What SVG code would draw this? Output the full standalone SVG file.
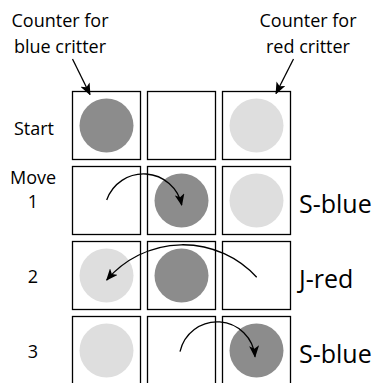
<svg xmlns="http://www.w3.org/2000/svg" width="373" height="383" viewBox="0 0 373 383">
<defs>
<style>
.box{fill:#fff;stroke:#000;stroke-width:1.3}
.dark{fill:#8c8c8c}
.light{fill:#dedede}
.t{font-family:"Open Sans","DejaVu Sans",sans-serif;font-size:18px;fill:#000}
.tm{text-anchor:middle}
.big{font-size:25px}
.arr{fill:none;stroke:#000;stroke-width:1.3}
</style>
<marker id="ah" viewBox="0 0 12 10" refX="11" refY="5" markerWidth="12" markerHeight="10" markerUnits="userSpaceOnUse" orient="auto">
<path d="M0,0 L12,5 L0,10 L3,5 Z" fill="#000"/>
</marker>
</defs>
<rect width="373" height="383" fill="#fff"/>
<g id="label-blue"><text class="t tm" x="60" y="27">Counter for</text><text class="t tm" x="60" y="53">blue critter</text></g>
<g id="label-red"><text class="t tm" x="308" y="27">Counter for</text><text class="t tm" x="308" y="53">red critter</text></g>
<g id="row-start">
<text class="t tm" x="34" y="135">Start</text>
<rect class="box" x="72.5" y="91.5" width="68" height="68"/>
<rect class="box" x="147.5" y="91.5" width="68" height="68"/>
<rect class="box" x="222.5" y="91.5" width="68" height="68"/>
<circle class="dark" cx="106.5" cy="125.5" r="27"/>
<circle class="light" cx="256.5" cy="125.5" r="27"/>
</g>
<g id="row-1">
<text class="t tm" x="33" y="184">Move</text><text class="t tm" x="33" y="208">1</text>
<rect class="box" x="72.5" y="166.5" width="68" height="68"/>
<rect class="box" x="147.5" y="166.5" width="68" height="68"/>
<rect class="box" x="222.5" y="166.5" width="68" height="68"/>
<circle class="dark" cx="181.5" cy="200.5" r="27"/>
<circle class="light" cx="256.5" cy="200.5" r="27"/>
<text class="t big" x="299" y="213">S-blue</text>
</g>
<g id="row-2">
<text class="t tm" x="33" y="283">2</text>
<rect class="box" x="72.5" y="241.5" width="68" height="68"/>
<rect class="box" x="147.5" y="241.5" width="68" height="68"/>
<rect class="box" x="222.5" y="241.5" width="68" height="68"/>
<circle class="light" cx="106.5" cy="275.5" r="27"/>
<circle class="dark" cx="181.5" cy="275.5" r="27"/>
<text class="t big" x="299" y="288">J-red</text>
</g>
<g id="row-3">
<text class="t tm" x="33" y="358">3</text>
<rect class="box" x="72.5" y="316.5" width="68" height="68"/>
<rect class="box" x="147.5" y="316.5" width="68" height="68"/>
<rect class="box" x="222.5" y="316.5" width="68" height="68"/>
<circle class="light" cx="106.5" cy="350.5" r="27"/>
<circle class="dark" cx="256.5" cy="350.5" r="27"/>
<text class="t big" x="299" y="363">S-blue</text>
</g>
<g id="connectors">
<line class="arr" x1="72.5" y1="59" x2="90" y2="94.5" marker-end="url(#ah)"/>
<line class="arr" x1="293.5" y1="59" x2="276" y2="93.5" marker-end="url(#ah)"/>
<path class="arr" d="M106.7,200 A39,39 0 0 1 181.7,205" marker-end="url(#ah)"/>
<path class="arr" d="M256.7,277.3 A100,100 0 0 0 106.7,280" marker-end="url(#ah)"/>
<path class="arr" d="M180,351.7 A38,38 0 0 1 255,356.7" marker-end="url(#ah)"/>
</g>
</svg>
